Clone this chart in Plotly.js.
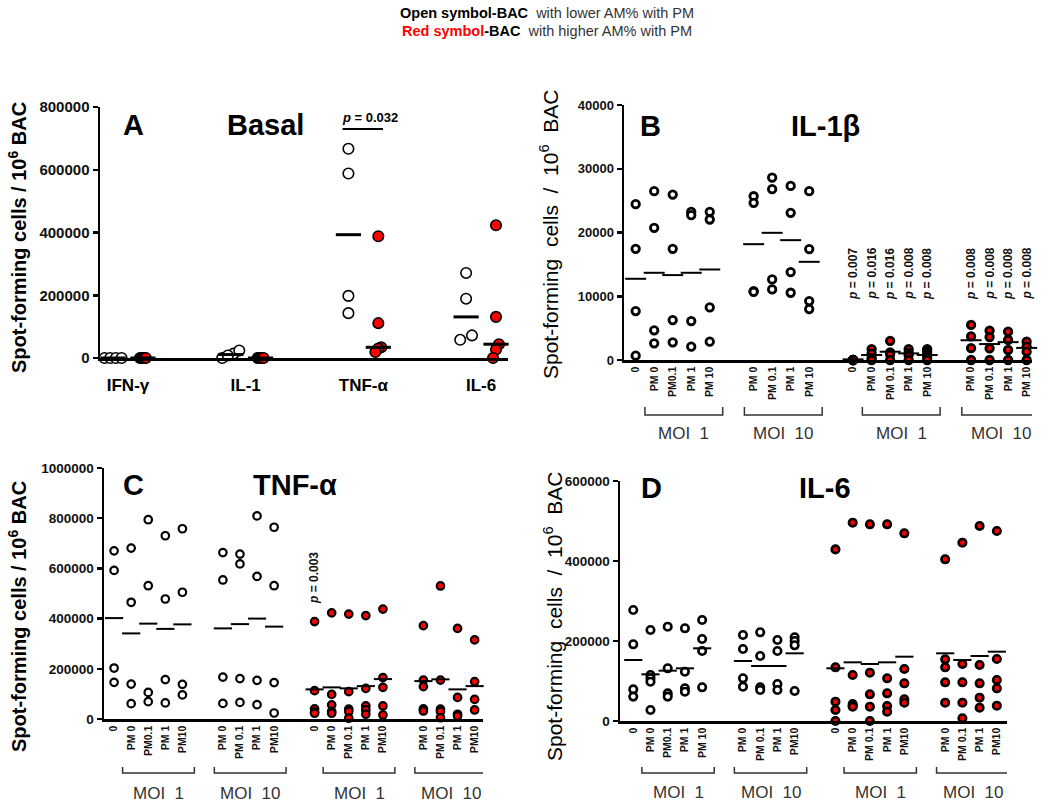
<!DOCTYPE html>
<html><head><meta charset="utf-8">
<script src="https://cdn.plot.ly/plotly-3.0.1.min.js"></script>
<style>html,body{margin:0;padding:0;background:#fff}#chart{width:1050px;height:806px}</style>
</head><body><div id="chart"></div>
<script>
// ---------------- DATA ----------------
// Panel A (Basal)
const A_categories = ["IFN-γ", "IL-1", "TNF-α", "IL-6"];
const A_open = [[0, 0, 0, 0], [14000, 0, 8000, 24000], [667000, 588000, 198000, 143000], [271000, 189000, 72000, 58000]];
const A_red = [[0, 0, 0, 0, 0], [0, 0, 0, 0, 0], [388000, 111000, 34000, 30000, 19000], [423000, 131000, 44000, 27000, 0]];
const A_open_median = [0, 11000, 393000, 131000];
const A_red_median = [0, 0, 34000, 44000];
const A_pvalue = "0.032";

// Shared group names (groups 1-2 open symbols, groups 3-4 red symbols)
const GROUP_NAMES = ["MOI 1", "MOI 10", "MOI 1", "MOI 10"];

// Panel B (IL-1β)
const B_labels = [["0", "PM 0", "PM0.1", "PM 1", "PM 10"], ["PM 0", "PM 0.1", "PM 1", "PM 10"], ["0", "PM 0", "PM 0.1", "PM 1", "PM 10"], ["PM 0", "PM 0.1", "PM 1", "PM 10"]];
const B_open_MOI1 = [[24440, 17440, 7680, 680], [26480, 20730, 4650, 2610], [25950, 17440, 6270, 2770], [23240, 22710, 6110, 2090], [23240, 22040, 8250, 2870]];
const B_open_MOI10 = [[25690, 24650, 10810, 10700], [28620, 26790, 12640, 11070], [27310, 23080, 13790, 10550], [26480, 17400, 9240, 7990]];
const B_red_MOI1 = [[0, 0, 0, 0, 0], [1700, 1000, 300, 0], [3000, 1200, 900, 0], [1700, 1100, 800, 0], [1700, 1300, 900, 500, 0]];
const B_red_MOI10 = [[5500, 3700, 1850, 0], [4600, 3600, 1830, 0], [4440, 3140, 1570, 0], [2880, 2090, 1310, 0]];
const B_means = [[12740, 13680, 13320, 13680, 14200], [18170, 19950, 18800, 15400], [100, 780, 1300, 1040, 780], [3100, 2500, 2800, 1900]];
const B_pvalues = [null, null, ["0.007", "0.016", "0.016", "0.008", "0.008"], ["0.008", "0.008", "0.008", "0.008"]];

// Panel C (TNF-α)
const C_labels = [["0", "PM 0", "PM0.1", "PM 1", "PM10"], ["PM 0", "PM 0.1", "PM 1", "PM10"], ["0", "PM 0", "PM 0.1", "PM 1", "PM10"], ["PM 0", "PM 0.1", "PM 1", "PM10"]];
const C_open_MOI1 = [[670000, 592000, 203000, 146000], [681000, 465000, 139000, 61000], [794000, 531000, 106000, 69000], [730000, 478000, 157000, 64000], [758000, 505000, 138000, 96000]];
const C_open_MOI10 = [[663000, 554000, 167000, 62000], [657000, 618000, 161000, 66000], [809000, 568000, 154000, 57000], [764000, 531000, 145000, 24000]];
const C_red_MOI1 = [[388000, 113000, 40000, 27000, 23000], [423000, 98000, 56000, 30000, 23000], [418000, 109000, 39000, 30000, 3000], [412000, 122000, 52000, 36000, 19000], [438000, 165000, 126000, 52000, 16000]];
const C_red_MOI10 = [[372000, 155000, 129000, 40000, 32000], [530000, 155000, 39000, 30000, 5000], [361000, 86000, 19000, 12000], [315000, 149000, 78000, 36000]];
const C_means = [[402000, 341000, 380000, 359000, 377000], [361000, 378000, 400000, 368000], [118000, 126000, 122000, 131000, 159000], [151000, 158000, 118000, 131000]];
const C_pvalues = [null, null, ["0.003", null, null, null, null], null];

// Panel D (IL-6)
const D_labels = [["0", "PM 0", "PM0.1", "PM 1", "PM 10"], ["PM 0", "PM 0.1", "PM 1", "PM10"], ["0", "PM 0", "PM 0.1", "PM 1", "PM10"], ["PM 0", "PM 0.1", "PM 1", "PM10"]];
const D_open_MOI1 = [[277500, 191700, 79000, 61000], [227500, 115000, 106700, 98300, 27500], [235800, 131700, 69000, 61000], [231700, 123300, 81700, 73300], [252500, 205000, 175000, 84200]];
const D_open_MOI10 = [[215000, 180000, 106700, 85800], [221700, 162500, 84200, 77500], [202500, 175000, 92500, 77500], [209200, 200000, 189200, 75000]];
const D_red_MOI1 = [[429000, 134200, 48300, 27500, 0], [495800, 115000, 42500, 38000, 35800], [491700, 120800, 66700, 35800, 0], [491700, 106700, 69200, 37500, 23300], [469200, 130000, 94200, 54200, 45800]];
const D_red_MOI10 = [[404200, 154200, 134200, 96700, 45800], [445800, 142500, 96700, 45800, 6700], [487500, 140000, 94200, 58300, 33300], [475000, 155000, 102500, 81700, 38300]];
const D_means = [[152500, 116700, 125800, 131700, 181700], [150000, 137500, 137500, 169200], [131700, 146700, 142500, 146700, 160800], [169200, 152500, 162500, 173300]];

// ---------------- LAYOUT HELPERS ----------------
const W = 1050, H = 806;
const FONT = "Arial, 'Liberation Sans', sans-serif";
const RED = "#ff0000";
const GAP = 2.37;
const px = v => v / W;
const py = v => 1 - v / H;

const traces = [];
const annotations = [];
const shapes = [];
const layout = {
  width: W, height: H, margin: {l: 0, r: 0, t: 0, b: 0},
  paper_bgcolor: "#fff", plot_bgcolor: "rgba(0,0,0,0)", showlegend: false,
  font: {family: FONT, color: "#000"}
};

function colPositions(groups) {
  const pos = []; let start = 0;
  groups.forEach(g => {
    const arr = []; for (let i = 0; i < g.length; i++) arr.push(start + i);
    pos.push(arr); start += g.length - 1 + GAP;
  });
  return pos;
}

// horizontal spreading of overlapping points (panel A style scatter)
function spreadOffsets(vals, thr, maxWidth) {
  const idx = vals.map((v, i) => i).sort((a, b) => vals[a] - vals[b]);
  const off = new Array(vals.length).fill(0);
  let cluster = [idx[0]];
  const flush = () => {
    const n = cluster.length;
    if (n > 1) {
      const width = Math.min((n - 1) * 0.1, maxWidth);
      cluster.forEach((k, j) => { off[k] = -width / 2 + width * j / (n - 1); });
    }
  };
  for (let j = 1; j < idx.length; j++) {
    if (vals[idx[j]] - vals[idx[j - 1]] < thr) cluster.push(idx[j]);
    else { flush(); cluster = [idx[j]]; }
  }
  flush();
  return off;
}

function paperText(text, x, y, size, opts) {
  annotations.push(Object.assign({
    text: text, xref: "paper", yref: "paper", x: px(x), y: py(y),
    xanchor: "center", yanchor: "middle", showarrow: false,
    font: {family: FONT, size: size, color: "#000"}
  }, opts || {}));
}

// ---------------- PANEL A ----------------
(function () {
  const OFF = 0.127;
  const ox = [], oy = [], rx = [], ry = [];
  A_categories.forEach((c, i) => {
    const o1 = spreadOffsets(A_open[i], 30000, 0.145);
    A_open[i].forEach((v, j) => { ox.push(i - OFF + o1[j]); oy.push(v); });
    const o2 = spreadOffsets(A_red[i], 30000, 0.05);
    A_red[i].forEach((v, j) => { rx.push(i + OFF + o2[j]); ry.push(v); });
  });
  traces.push({type: "scatter", mode: "markers", x: ox, y: oy, xaxis: "x", yaxis: "y", cliponaxis: false,
    marker: {symbol: "circle", size: 10.5, color: "#fff", line: {color: "#000", width: 1.6}}});
  traces.push({type: "scatter", mode: "markers", x: rx, y: ry, xaxis: "x", yaxis: "y", cliponaxis: false,
    marker: {symbol: "circle", size: 10.5, color: RED, line: {color: "#000", width: 1.6}}});
  const mx = [], my = [];
  A_categories.forEach((c, i) => { mx.push(i - OFF, i + OFF); my.push(A_open_median[i], A_red_median[i]); });
  traces.push({type: "scatter", mode: "markers", x: mx, y: my, xaxis: "x", yaxis: "y", cliponaxis: false,
    marker: {symbol: "line-ew", size: 18, line: {color: "#000", width: 3}}});

  layout.xaxis = {domain: [px(100), px(508)], range: [-0.238, 3.229], anchor: "y",
    showline: true, linewidth: 2.5, linecolor: "#000", ticks: "", showgrid: false, zeroline: false,
    tickvals: [0, 1, 2, 3], ticktext: A_categories, ticklabelstandoff: 10,
    tickfont: {family: FONT, size: 17, weight: "bold", color: "#000"}};
  const yt = [0, 200000, 400000, 600000, 800000];
  layout.yaxis = {domain: [py(358), py(107)], range: [0, 800000], anchor: "x",
    showline: true, linewidth: 2.5, linecolor: "#000", ticks: "outside", ticklen: 5, tickwidth: 2.5, tickcolor: "#000",
    showgrid: false, zeroline: false, tickvals: yt, ticktext: yt.map(String),
    tickfont: {family: FONT, size: 15, weight: "bold", color: "#111"}};
  // significance bar
  shapes.push({type: "line", xref: "x", yref: "y", x0: 2 - OFF - 0.05, x1: 2 + OFF + 0.04, y0: 730000, y1: 730000,
    line: {color: "#000", width: 2}});
  annotations.push({text: "<b><i>p</i> = " + A_pvalue + "</b>", xref: "x", yref: "y", x: 2.06, y: 768000,
    showarrow: false, xanchor: "center", yanchor: "middle", font: {family: FONT, size: 13, color: "#000"}});
  paperText("<b>A</b>", 133, 125, 29);
  paperText("<b>Basal</b>", 265, 125, 29);
  paperText("<b>Spot-forming cells / 10<sup>6</sup> BAC</b>", 17, 238, 20, {textangle: -90});
})();

// ---------------- PANELS B, C, D ----------------
function buildPanel(cfg) {
  const groups = [cfg.g0, cfg.g1, cfg.g2, cfg.g3];
  const cols = colPositions(groups);
  const ox = [], oy = [], rx = [], ry = [], mx = [], my = [];
  groups.forEach((g, gi) => {
    g.forEach((vals, ci) => {
      vals.forEach(v => {
        if (gi < 2) { ox.push(cols[gi][ci]); oy.push(v); }
        else { rx.push(cols[gi][ci]); ry.push(v); }
      });
      mx.push(cols[gi][ci]); my.push(cfg.means[gi][ci]);
    });
  });
  const xa = cfg.xa, ya = cfg.ya;
  traces.push({type: "scatter", mode: "markers", x: ox, y: oy, xaxis: xa, yaxis: ya, cliponaxis: false,
    marker: {symbol: "circle", size: cfg.msize, color: "#fff", line: {color: "#000", width: cfg.mline}}});
  traces.push({type: "scatter", mode: "markers", x: rx, y: ry, xaxis: xa, yaxis: ya, cliponaxis: false,
    marker: {symbol: "circle", size: cfg.msize, color: RED, line: {color: "#000", width: cfg.mline}}});
  traces.push({type: "scatter", mode: "markers", x: mx, y: my, xaxis: xa, yaxis: ya, cliponaxis: false,
    marker: {symbol: "line-ew", size: cfg.dash, line: {color: "#000", width: 2}}});

  const tickvals = [].concat(...cols);
  const ticktext = [].concat(...cfg.labels);
  const xn = "xaxis" + xa.slice(1), yn = "yaxis" + ya.slice(1);
  const [x0, x1, y0, y1] = cfg.dom;
  layout[xn] = {domain: [px(x0), px(x1)], range: cfg.xrange, anchor: ya,
    showline: true, linewidth: 2.5, linecolor: "#000", ticks: "", showgrid: false, zeroline: false,
    tickvals: tickvals, ticktext: ticktext, tickangle: -90,
    tickfont: {family: FONT, size: 10.5, weight: "bold", color: "#111"}};
  layout[yn] = {domain: [py(y1), py(y0)], range: [0, cfg.ymax], anchor: xa,
    showline: true, linewidth: 2.5, linecolor: "#000", ticks: "outside", ticklen: 5, tickwidth: 2.5, tickcolor: "#000",
    showgrid: false, zeroline: false, tickvals: cfg.yticks, ticktext: cfg.yticks.map(String),
    tickfont: {family: FONT, size: cfg.ytfs, weight: "bold", color: "#111"}};

  // brackets + group names
  groups.forEach((g, gi) => {
    const c = cols[gi];
    const first = g.length === 5 ? c[1] : c[0];
    const last = c[c.length - 1];
    const a = first - 0.5, b = last + 0.7;
    shapes.push({type: "path", xref: xa, yref: "paper",
      path: `M ${a},${py(cfg.br[0])} L ${a},${py(cfg.br[1])} L ${b},${py(cfg.br[1])} L ${b},${py(cfg.br[0])}`,
      line: {color: "#333", width: 1.5}});
    annotations.push({text: GROUP_NAMES[gi].replace(" ", "\u00a0\u00a0"), xref: xa, yref: "paper", x: (a + b) / 2, y: py(cfg.moiY),
      showarrow: false, xanchor: "center", yanchor: "middle", font: {family: FONT, size: 17, color: "#333"}});
  });
  // p values
  if (cfg.pvals) {
    cfg.pvals.forEach((arr, gi) => {
      if (!arr) return;
      arr.forEach((p, ci) => {
        if (!p) return;
        annotations.push({text: "<b><i>p</i> = " + p + "</b>", xref: xa, yref: ya, x: cols[gi][ci], y: cfg.pY,
          textangle: -90, showarrow: false, xanchor: "center", yanchor: "middle",
          font: {family: FONT, size: 12, color: "#111"}});
      });
    });
  }
  paperText("<b>" + cfg.letter + "</b>", cfg.letterPos[0], cfg.letterPos[1], 29);
  paperText("<b>" + cfg.title + "</b>", cfg.titlePos[0], cfg.titlePos[1], 29);
  const yt = cfg.boldTitle ? "<b>Spot-forming cells / 10<sup>6</sup> BAC</b>"
    : "Spot-forming\u00a0 cells\u00a0 /\u00a0 10<sup>6</sup>\u00a0 BAC";
  paperText(yt, cfg.ytitlePos[0], cfg.ytitlePos[1], cfg.boldTitle ? 20 : 21, {textangle: -90});
}

buildPanel({xa: "x2", ya: "y2", g0: B_open_MOI1, g1: B_open_MOI10, g2: B_red_MOI1, g3: B_red_MOI10,
  means: B_means, labels: B_labels, pvals: B_pvalues, pY: 13500,
  dom: [624, 1032, 105, 360], xrange: [-0.63, 21.4], ymax: 40000, yticks: [0, 10000, 20000, 30000, 40000], ytfs: 13,
  msize: 7.5, mline: 2.8, dash: 15, br: [407, 415], moiY: 433,
  letter: "B", letterPos: [650, 126], title: "IL-1β", titlePos: [825, 126], boldTitle: false, ytitlePos: [549, 235]});

buildPanel({xa: "x3", ya: "y3", g0: C_open_MOI1, g1: C_open_MOI10, g2: C_red_MOI1, g3: C_red_MOI10,
  means: C_means, labels: C_labels, pvals: C_pvalues, pY: 560000,
  dom: [104, 483, 468, 719], xrange: [-0.59, 21.6], ymax: 1000000, yticks: [0, 200000, 400000, 600000, 800000, 1000000], ytfs: 13.5,
  msize: 7.5, mline: 2.2, dash: 13, br: [767, 773], moiY: 793,
  letter: "C", letterPos: [133, 485], title: "TNF-α", titlePos: [295, 485], boldTitle: true, ytitlePos: [17, 617]});

buildPanel({xa: "x4", ya: "y4", g0: D_open_MOI1, g1: D_open_MOI10, g2: D_red_MOI1, g3: D_red_MOI10,
  means: D_means, labels: D_labels, pvals: null, pY: 0,
  dom: [620, 1007, 481, 721], xrange: [-0.77, 21.7], ymax: 600000, yticks: [0, 200000, 400000, 600000], ytfs: 13.5,
  msize: 7.5, mline: 2.6, dash: 13, br: [767, 773], moiY: 792,
  letter: "D", letterPos: [651, 488], title: "IL-6", titlePos: [825, 488], boldTitle: false, ytitlePos: [553, 617]});

// header legend text
paperText("<b>Open symbol-BAC</b><span style='color:#333'>\u00a0 with lower AM% with PM</span>", 547, 13, 14.5);
paperText("<b><span style='color:#ff0000'>Red symbol</span>-BAC</b><span style='color:#333'>\u00a0 with higher AM% with PM</span>", 547, 31, 14.5);

layout.annotations = annotations;
layout.shapes = shapes;
Plotly.newPlot("chart", traces, layout, {staticPlot: true, displayModeBar: false});
</script></body></html>
